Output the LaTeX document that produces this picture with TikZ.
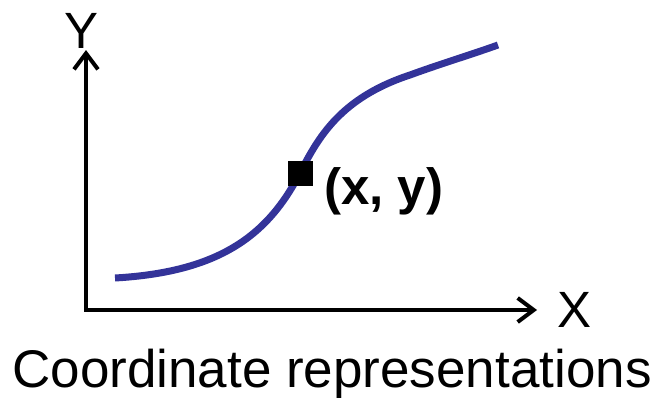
\documentclass[tikz,border=0pt]{standalone}
\usepackage{fontspec}
\setmainfont{Liberation Sans}
\usetikzlibrary{arrows.meta}
\definecolor{curveblue}{HTML}{333399}
\begin{document}
\begin{tikzpicture}[x=1pt,y=-1pt,
  axis/.style={line width=4pt, -{Straight Barb[length=16pt,width=24pt,line width=4pt]}},
  bigtext/.style={font=\fontsize{51}{60}\selectfont, inner sep=0pt, anchor=base},
  curve/.style={curveblue, line width=7pt},
  marker/.style={fill=black, draw=none, minimum size=25pt, inner sep=0pt}]
\useasboundingbox (0,0) rectangle (656,399);
\coordinate (O) at (86,310);
\coordinate (ytip) at (86,50);
\coordinate (xtip) at (537,310);
\draw[axis] (O) -- (ytip);
\draw[axis] (O) -- (xtip);
\draw[line width=4pt] (86,308) -- (O) -- (88,310);
\node[bigtext] (ylabel) at (82,48) {Y};
\node[bigtext] (xlabel) at (575,327) {X};
\coordinate (c0) at (115,278);
\coordinate (c1) at (300,173);
\coordinate (c2) at (410,75);
\coordinate (c3) at (498,45);
\draw[curve] (c0) .. controls (220,272) and (268,235) .. (c1)
  .. controls (318,138) and (340,98) .. (c2)
  .. controls (440,64) and (470,55) .. (c3);
\node[marker] (pt) at (c1) {};
\node[bigtext, anchor=base west, font=\fontsize{51}{60}\selectfont\bfseries] (ptlabel) at (324,204) {(x, y)};
\node[bigtext, font=\fontsize{53}{62}\selectfont] (caption) at (332,387) {Coordinate representations};
\end{tikzpicture}
\end{document}
